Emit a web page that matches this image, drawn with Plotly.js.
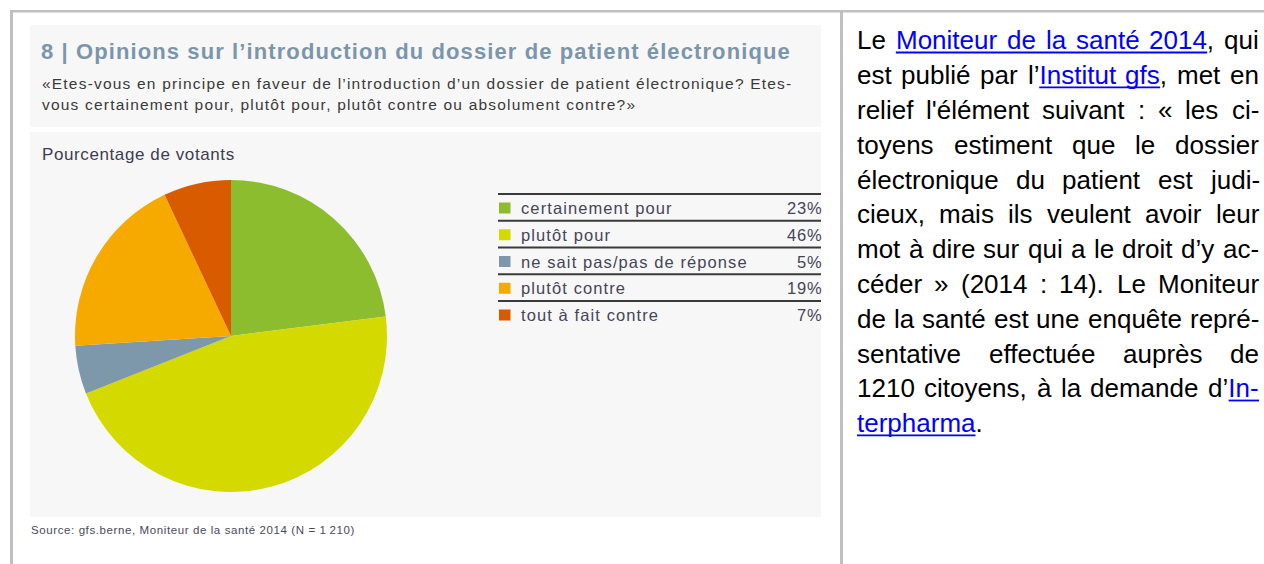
<!DOCTYPE html>
<html><head><meta charset="utf-8">
<script src="https://cdn.plot.ly/plotly-3.0.1.min.js"></script>
<style>html,body{margin:0;padding:0;background:#fff;overflow:hidden}#chart{width:1264px;height:564px}</style>
</head><body><div id="chart"></div>
<script>
const W = 1264, H = 564;

// ---- data ----
const categories = ['certainement pour', 'plutôt pour', 'ne sait pas/pas de réponse', 'plutôt contre', 'tout à fait contre'];
const values = [23, 46, 5, 19, 7];
const sliceColors = ['#8cbd2f', '#d4d900', '#7e98ab', '#f6aa00', '#d85b00'];
const titleText = '8 | Opinions sur l’introduction du dossier de patient électronique';
const subtitleLines = [
  '«Etes-vous en principe en faveur de l’introduction d’un dossier de patient électronique? Etes-',
  'vous certainement pour, plutôt pour, plutôt contre ou absolument contre?»'
];
const axisLabel = 'Pourcentage de votants';
const sourceText = 'Source: gfs.berne, Moniteur de la santé 2014 (N = 1\u2009210)';
const bodyLines = [
  'Le [Moniteur de la santé 2014], qui',
  'est publié par l’[Institut gfs], met en',
  'relief l\'élément suivant : « les ci-',
  'toyens estiment que le dossier',
  'électronique du patient est judi-',
  'cieux, mais ils veulent avoir leur',
  'mot à dire sur qui a le droit d’y ac-',
  'céder » (2014 : 14). Le Moniteur',
  'de la santé est une enquête repré-',
  'sentative effectuée auprès de',
  '1210 citoyens, à la demande d’[In-]',
  '[terpharma].'
];

// ---- helpers ----
const FONT = 'Liberation Sans, Arial, sans-serif';
const px = x => x / W;
const py = y => 1 - y / H;
const shapes = [];
const annotations = [];
function rect(x0, y0, x1, y1, color, layer) {
  shapes.push({type: 'rect', xref: 'paper', yref: 'paper', x0: px(x0), x1: px(x1), y0: py(y1), y1: py(y0),
    fillcolor: color, line: {width: 0}, layer: layer || 'below'});
}
function hline(x0, x1, y, color, w) {
  shapes.push({type: 'line', xref: 'paper', yref: 'paper', x0: px(x0), x1: px(x1), y0: py(y), y1: py(y),
    line: {color: color, width: w}, layer: 'above'});
}
function spaced(text, ls) {
  return ls ? '<span style="letter-spacing:' + ls + 'px">' + text + '</span>' : text;
}
function label(text, x, y, size, color, xanchor, weight, ls) {
  annotations.push({text: spaced(text, ls), xref: 'paper', yref: 'paper', x: px(x), y: py(y),
    xanchor: xanchor || 'left', yanchor: 'middle', showarrow: false, borderpad: 0, borderwidth: 0,
    font: {family: FONT, size: size, color: color, weight: weight || 400}});
}

// ---- frame ----
rect(10, 10, W, 12.6, '#c0c0c0');
rect(10, 10, 13, H, '#c0c0c0');
rect(840, 10, 843, H, '#c0c0c0');
rect(30, 25, 821, 127, '#f7f7f7');
rect(30, 132, 821, 517, '#f7f7f7');

// ---- left panel texts ----
label(titleText, 41, 51, 22, '#7b95ab', 'left', 700, 1.1);
label(subtitleLines[0], 42, 83, 15.5, '#3a3a3a', 'left', 400, 1.2);
label(subtitleLines[1], 42, 104, 15.5, '#3a3a3a', 'left', 400, 1.2);
label(axisLabel, 42, 154, 17, '#3d3d52', 'left', 400, 0.6);
label(sourceText, 31, 530, 11.5, '#4a4a5a', 'left', 400, 0.6);

// ---- legend table ----
const rowTop = 194, rowStep = 26.75;
categories.forEach((c, i) => {
  const top = rowTop + i * rowStep;
  const mid = top + 14;
  hline(498, 821, top, '#3a3a3a', 2);
  rect(499, mid - 5.5, 510.5, mid + 5.5, sliceColors[i], 'above');
  label(c, 521, mid, 16.5, '#454558', 'left', 400, 1.1);
  label(values[i] + '%', 822, mid, 16.5, '#454558', 'right', 400, 0.8);
});

// ---- right text, justified ----
const ctx = document.createElement('canvas').getContext('2d');
const BF = 26, lineH = 34.8, base0 = 49.5, tx0 = 857, tx1 = 1259;
ctx.font = BF + 'px "Liberation Sans"';
const spaceW = ctx.measureText(' ').width;
function parseLine(line) {
  const words = [];
  let link = false;
  line.split(' ').forEach(wstr => {
    const segs = [];
    let cur = '';
    for (const ch of wstr) {
      if (ch === '[' || ch === ']') {
        if (cur) segs.push({t: cur, link: link});
        cur = '';
        link = (ch === '[');
      } else cur += ch;
    }
    if (cur) segs.push({t: cur, link: link});
    segs.forEach(s => s.w = ctx.measureText(s.t).width);
    words.push({segs: segs, w: segs.reduce((a, s) => a + s.w, 0)});
  });
  return words;
}
bodyLines.forEach((line, i) => {
  const words = parseLine(line);
  const total = words.reduce((a, w) => a + w.w, 0);
  const last = i === bodyLines.length - 1;
  const gap = (!last && words.length > 1) ? (tx1 - tx0 - total) / (words.length - 1) : spaceW;
  const yb = base0 + i * lineH;
  let x = tx0, linkStart = null, prevEnd = tx0;
  words.forEach(wd => {
    let cx = x, text = '';
    wd.segs.forEach((s, k) => {
      if (s.link) { if (linkStart === null) linkStart = cx; }
      else if (linkStart !== null) {
        hline(linkStart, k === 0 ? prevEnd : cx, yb + 3, '#0000ff', 1.8);
        linkStart = null;
      }
      text += s.link ? '<span style="color:#0000ff">' + s.t + '</span>' : s.t;
      cx += s.w;
    });
    label(text, x, yb - 0.35 * BF, BF, '#000000');
    prevEnd = cx;
    x = cx + gap;
  });
  if (linkStart !== null) hline(linkStart, prevEnd, yb + 3, '#0000ff', 1.8);
});

// ---- pie ----
const trace = {
  type: 'pie', labels: categories, values: values, sort: false, direction: 'clockwise', rotation: 0,
  marker: {colors: sliceColors, line: {width: 0}}, textinfo: 'none', hoverinfo: 'label+percent',
  domain: {x: [px(75), px(387)], y: [py(492), py(180)]}, showlegend: false
};
const layout = {
  width: W, height: H, margin: {l: 0, r: 0, t: 0, b: 0}, paper_bgcolor: '#ffffff',
  showlegend: false, font: {family: FONT}, shapes: shapes, annotations: annotations
};
Plotly.newPlot('chart', [trace], layout, {displayModeBar: false, staticPlot: true});
</script></body></html>
